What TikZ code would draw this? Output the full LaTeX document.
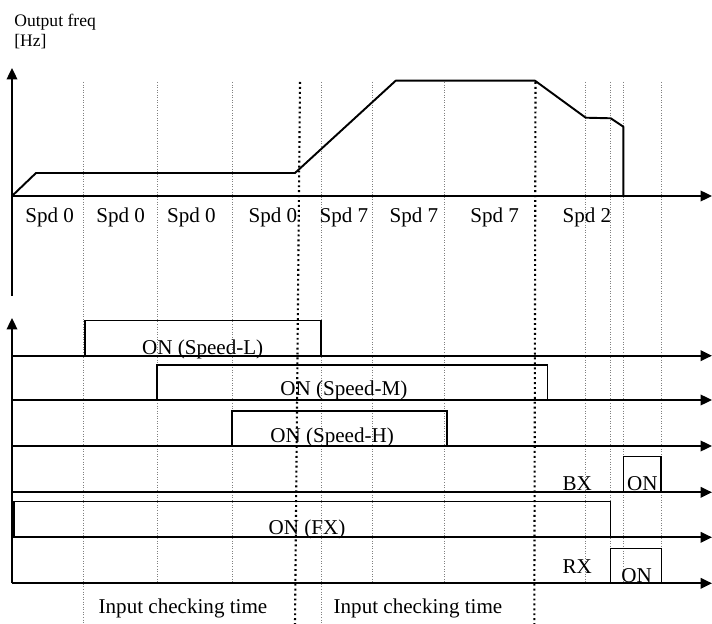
\documentclass[tikz,border=0pt]{standalone}
\usepackage{fontspec}
\setmainfont{Liberation Serif}
\usetikzlibrary{arrows.meta}
\definecolor{gridgray}{HTML}{808080}
\tikzset{
  axis/.style={line width=1.1pt, -{Triangle[length=6.5pt,width=6pt]}},
  freqline/.style={line width=1.1pt, line join=round},
  pulsebox/.style={draw, line width=0.85pt},
  gridline/.style={gridgray, line width=0.45pt, densely dotted},
  phaseline/.style={line width=1.2pt, dash pattern=on 1.1pt off 1.7pt},
  lbl/.style={anchor=base west, inner sep=0pt, font=\fontsize{12}{14}\selectfont},
  small lbl/.style={anchor=base west, inner sep=0pt, font=\fontsize{10}{12}\selectfont}
}
% pulse: name, left, right, top, bottom
\newcommand{\onpulse}[5]{%
  \draw[pulsebox] (#2,#5) rectangle (#3,#4) coordinate (#1);}

\begin{document}
\begin{tikzpicture}[x=0.02cm, y=-0.02cm]
  \useasboundingbox (0,0) rectangle (712,624);
  % grid
  \foreach \gx in {83,321}
    \draw[gridline] (\gx,82) -- (\gx,624);
  \foreach \gx in {157,232,372.7,444.7,585.7,610.7,623.3,661}
    \draw[gridline] (\gx,82) -- (\gx,583.3);
  \draw[phaseline] (300,82) -- (295,624);
  \draw[phaseline] (535.5,82) -- (534.3,624);

  % output frequency
  \node[small lbl] (ylab1) at (14,26.7) {Output freq};
  \node[small lbl] (ylab2) at (14,46.5) {[Hz]};
  \draw[axis] (12,296) -- (12,68);
  \draw[axis] (12,196) -- (712,196);
  \draw[freqline] (12,196) -- (36,173) -- (295,173) -- (395.7,80.7)
    -- (535,80.7) -- (585.7,117.7) -- (610.7,118.3) -- (623.3,126.7)
    -- (623.3,196);
  \node[lbl] (spd1) at (25,223) {Spd 0};
  \node[lbl] (spd2) at (96,223) {Spd 0};
  \node[lbl] (spd3) at (166.7,223) {Spd 0};
  \node[lbl] (spd4) at (248.3,223) {Spd 0};
  \node[lbl] (spd5) at (319.3,223) {Spd 7};
  \node[lbl] (spd6) at (389.3,223) {Spd 7};
  \node[lbl] (spd7) at (470,223) {Spd 7};
  \node[lbl] (spd8) at (562.3,223) {Spd 2};

  % input signals
  \draw[axis] (12,583.3) -- (12,318);
  \foreach \sy in {355.7,400,446,492.3,537.3,583.3}
    \draw[axis] (12,\sy) -- (712,\sy);
  \onpulse{pl}{85}{321}{320.7}{355.7}
  \onpulse{pm}{157}{547.3}{365}{400}
  \onpulse{ph}{232}{447}{411}{446}
  \onpulse{pbx}{623.3}{661}{456.7}{492.3}
  \onpulse{pfx}{14}{610.7}{501.7}{537.3}
  \onpulse{prx}{610.7}{661.7}{548.3}{583.3}
  \node[lbl] (onl) at (141.7,354.7) {ON (Speed-L)};
  \node[lbl] (onm) at (280,395.7) {ON (Speed-M)};
  \node[lbl] (onh) at (270,442.3) {ON (Speed-H)};
  \node[lbl] (bx) at (562.3,490.5) {BX};
  \node[lbl] (onbx) at (626.7,490.8) {ON};
  \node[lbl] (onfx) at (268.3,534) {ON (FX)};
  \node[lbl] (rx) at (562.3,573.5) {RX};
  \node[lbl] (onrx) at (621,582) {ON};
  \node[lbl] (chk1) at (98.3,613.5) {Input checking time};
  \node[lbl] (chk2) at (333.3,613.5) {Input checking time};
\end{tikzpicture}
\end{document}
